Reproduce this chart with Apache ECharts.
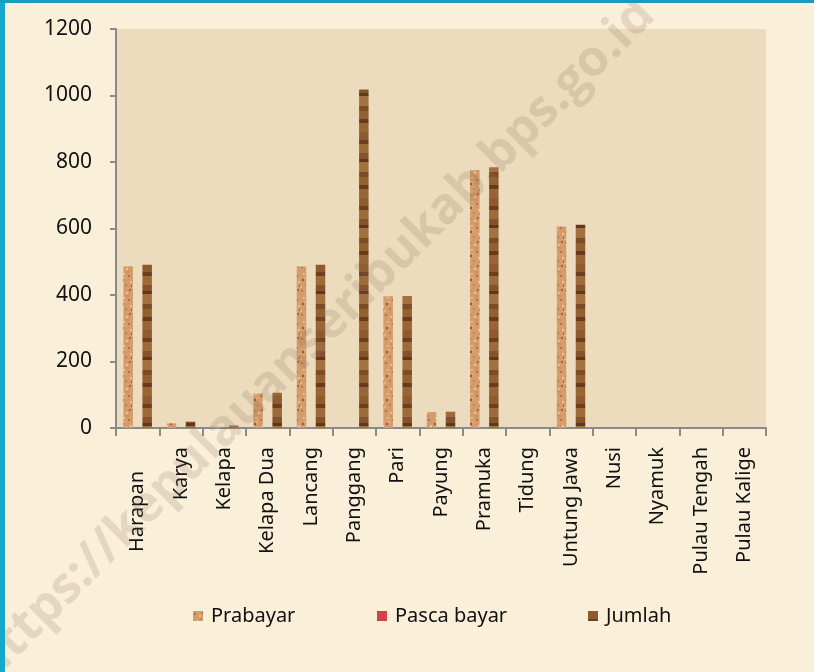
<!DOCTYPE html>
<html>
<head>
<meta charset="utf-8">
<script src="https://cdn.jsdelivr.net/npm/echarts@6/dist/echarts.min.js"></script>
<style>
html,body{margin:0;padding:0;background:#faf0da;}
#main{width:814px;height:672px;}
</style>
</head>
<body>
<div id="main"></div>
<script>
const categories = ['Harapan','Karya','Kelapa','Kelapa Dua','Lancang','Panggang','Pari','Payung','Pramuka','Tidung','Untung Jawa','Nusi','Nyamuk','Pulau Tengah','Pulau Kalige'];
const prabayar   = [486, 14, 4, 104, 486, 0, 396, 48, 775, 0, 606, 0, 0, 0, 0];
const pascaBayar = [0, 0, 0, 0, 0, 0, 0, 0, 0, 0, 0, 0, 0, 0, 0];
const jumlah     = [491, 19, 7, 106, 491, 1018, 397, 49, 784, 0, 611, 0, 0, 0, 0];
const yTicks = [0, 200, 400, 600, 800, 1000, 1200];
const seriesNames = ['Prabayar', 'Pasca bayar', 'Jumlah'];

// texture patterns (deterministic)
function stripeTexture() {
  const c = document.createElement('canvas');
  c.width = 12; c.height = 66;
  const g = c.getContext('2d');
  const bands = [['#8f5b2e',8],['#6b4020',4],['#9e6a3a',9],['#84532a',6],['#5f3719',3],['#a57040',10],['#7d4c26',5],['#93602f',8],['#663c1d',4],['#9a6536',9]];
  let y = 0;
  bands.forEach(b => { g.fillStyle = b[0]; g.fillRect(0, y, 12, b[1]); y += b[1]; });
  return c;
}
function speckleTexture() {
  const c = document.createElement('canvas');
  c.width = 12; c.height = 24;
  const g = c.getContext('2d');
  g.fillStyle = '#d39c6a';
  g.fillRect(0, 0, 12, 24);
  const dots = [[1,2,'#b57a49'],[6,4,'#eebf8f'],[9,1,'#a9693a'],[3,9,'#e9b887'],[8,11,'#b27545'],[2,15,'#8f5a30'],[10,17,'#edc497'],[5,20,'#bd8351'],[0,22,'#e6b584'],[7,7,'#c48a58'],[4,13,'#e2ad7c'],[11,21,'#9d6436']];
  dots.forEach(d => { g.fillStyle = d[2]; g.fillRect(d[0], d[1], 2, 2); });
  return c;
}

const chart = echarts.init(document.getElementById('main'), null, {renderer: 'canvas'});
const labelFont = '"Noto Sans", sans-serif';
const legendLefts = [188, 372, 583];

chart.setOption({
  backgroundColor: '#faf0da',
  animation: false,
  grid: {
    left: 116, top: 29, right: 48, bottom: 244,
    show: true, backgroundColor: '#ecdcbd', borderWidth: 0
  },
  legend: seriesNames.map((n, i) => ({
    left: legendLefts[i], top: 601,
    itemWidth: 10, itemHeight: 10,
    icon: 'rect',
    textStyle: {fontSize: 20, color: '#111', fontFamily: labelFont, padding: [0, 0, 0, 3]},
    data: [n]
  })),
  xAxis: {
    type: 'category',
    data: categories.map((c, i) => i === 0 ? {value: c, textStyle: {padding: [0, 24, 0, 0]}} : c),
    axisLine: {lineStyle: {color: '#8a8a8a', width: 2}},
    axisTick: {show: true, length: 8, lineStyle: {color: '#8a8a8a', width: 2}},
    axisLabel: {rotate: 90, margin: 19, fontSize: 20, color: '#111', fontFamily: labelFont, interval: 0},
    splitLine: {show: false}
  },
  yAxis: {
    type: 'value', min: yTicks[0], max: yTicks[yTicks.length - 1], interval: 200,
    axisLine: {show: true, lineStyle: {color: '#8a8a8a', width: 2}},
    axisTick: {show: true, length: 6, lineStyle: {color: '#8a8a8a', width: 2}},
    axisLabel: {fontSize: 21, color: '#111', fontFamily: labelFont, margin: 24, formatter: v => String(v)},
    splitLine: {show: false}
  },
  series: [
    {name: seriesNames[0], type: 'bar', data: prabayar, barWidth: 9.5, barGap: '0%',
     itemStyle: {color: {image: speckleTexture(), repeat: 'repeat'}}},
    {name: seriesNames[1], type: 'bar', data: pascaBayar, barWidth: 9.5, barGap: '0%',
     itemStyle: {color: '#d2434b'}},
    {name: seriesNames[2], type: 'bar', data: jumlah, barWidth: 9.5, barGap: '0%',
     itemStyle: {color: {image: stripeTexture(), repeat: 'repeat'}}}
  ],
  graphic: [
    {type: 'rect', left: 0, top: 0, shape: {width: 5, height: 672}, style: {fill: '#17a7c8'}, z: 100},
    {type: 'rect', left: 0, top: 0, shape: {width: 814, height: 3}, style: {fill: '#1a9dbd'}, z: 100},
    {type: 'text', x: 314, y: 340, rotation: Math.PI / 4, z: 50,
     style: {text: 'https://kepulauanseribukab.bps.go.id', fontSize: 50, fontWeight: 'bold',
             fontFamily: '"Open Sans", sans-serif', fill: 'rgba(140,110,90,0.2)',
             align: 'center', verticalAlign: 'middle'}}
  ]
});
</script>
</body>
</html>
